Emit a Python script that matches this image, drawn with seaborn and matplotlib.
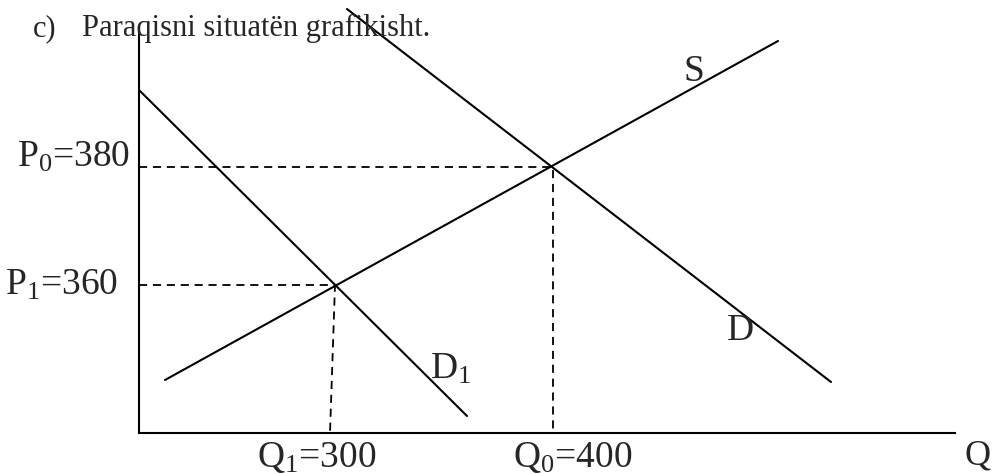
import pandas as pd
import seaborn as sns
import matplotlib.pyplot as plt

# curve end points (q, p) in chart units, origin at the axes corner
s_q = [26, 639]
s_p = [53, 392]
d_q = [208, 692]
d_p = [424, 51]
d1_q = [0, 328]
d1_p = [343, 17]

# equilibria and guide lines
e0 = (414, 266)
e1 = (196, 148)
q1_foot = 191
axis_q_max = 816
axis_p_max = 400

price_labels = ['P$_{\\mathrm{0}}$=380', 'P$_{\\mathrm{1}}$=360']
qty_labels = ['Q$_{\\mathrm{1}}$=300', 'Q$_{\\mathrm{0}}$=400']


def main():
    sns.set_theme(style='white')
    plt.rcParams['font.family'] = ['Liberation Serif', 'DejaVu Serif']
    plt.rcParams['mathtext.fontset'] = 'custom'
    plt.rcParams['mathtext.rm'] = 'Liberation Serif'
    plt.rcParams['mathtext.it'] = 'Liberation Serif'

    fig = plt.figure(figsize=(9.93, 4.74), dpi=100)
    ax = fig.add_axes([0, 0, 1, 1])

    curves = pd.concat([
        pd.DataFrame({'q': s_q, 'p': s_p, 'curve': 'S'}),
        pd.DataFrame({'q': d_q, 'p': d_p, 'curve': 'D'}),
        pd.DataFrame({'q': d1_q, 'p': d1_p, 'curve': 'D1'}),
    ])
    sns.lineplot(data=curves, x='q', y='p', units='curve', estimator=None,
                 sort=False, color='black', linewidth=1.5, ax=ax)

    guides = pd.DataFrame({
        'q': [0, e0[0], e0[0], 0, e1[0], q1_foot],
        'p': [e0[1], e0[1], 0, e1[1], e1[1], 0],
        'g': ['a', 'a', 'a', 'b', 'b', 'b'],
    })
    sns.lineplot(data=guides, x='q', y='p', units='g', estimator=None,
                 sort=False, color='black', linewidth=1.3, dashes=False,
                 linestyle=(0, (4.5, 3.2)), ax=ax)

    ax.set_xlim(-139, 854)
    ax.set_ylim(-41, 433)
    ax.set_xticks([])
    ax.set_yticks([])
    ax.set_xlabel('')
    ax.set_ylabel('')
    for side in ['top', 'right']:
        ax.spines[side].set_visible(False)
    ax.spines['left'].set_position(('data', 0))
    ax.spines['left'].set_bounds(0, axis_p_max)
    ax.spines['bottom'].set_position(('data', 0))
    ax.spines['bottom'].set_bounds(0, axis_q_max)
    for side in ['left', 'bottom']:
        ax.spines[side].set_color('black')
        ax.spines[side].set_linewidth(1.5)

    fs = 27
    ax.text(-9, e0[1], price_labels[0], ha='right', va='baseline', fontsize=fs)
    ax.text(-21, e1[1] - 10, price_labels[1], ha='right', va='baseline', fontsize=fs)
    ax.text(118, -34, qty_labels[0], ha='left', va='baseline', fontsize=fs)
    ax.text(374, -34, qty_labels[1], ha='left', va='baseline', fontsize=fs)
    ax.text(825, -32, 'Q', ha='left', va='baseline', fontsize=26)
    ax.text(544, 352, 'S', ha='left', va='baseline', fontsize=fs)
    ax.text(588, 93, 'D', ha='left', va='baseline', fontsize=fs)
    ax.text(291, 54, 'D$_{\\mathrm{1}}$', ha='left', va='baseline', fontsize=fs)

    ax.text(-106, 397, 'c)', ha='left', va='baseline', fontsize=22)
    ax.text(-57, 397, 'Paraqisni situatën grafikisht.', ha='left',
            va='baseline', fontsize=22)

    fig.savefig('out.png', dpi=100)


if __name__ == "__main__":
    main()
